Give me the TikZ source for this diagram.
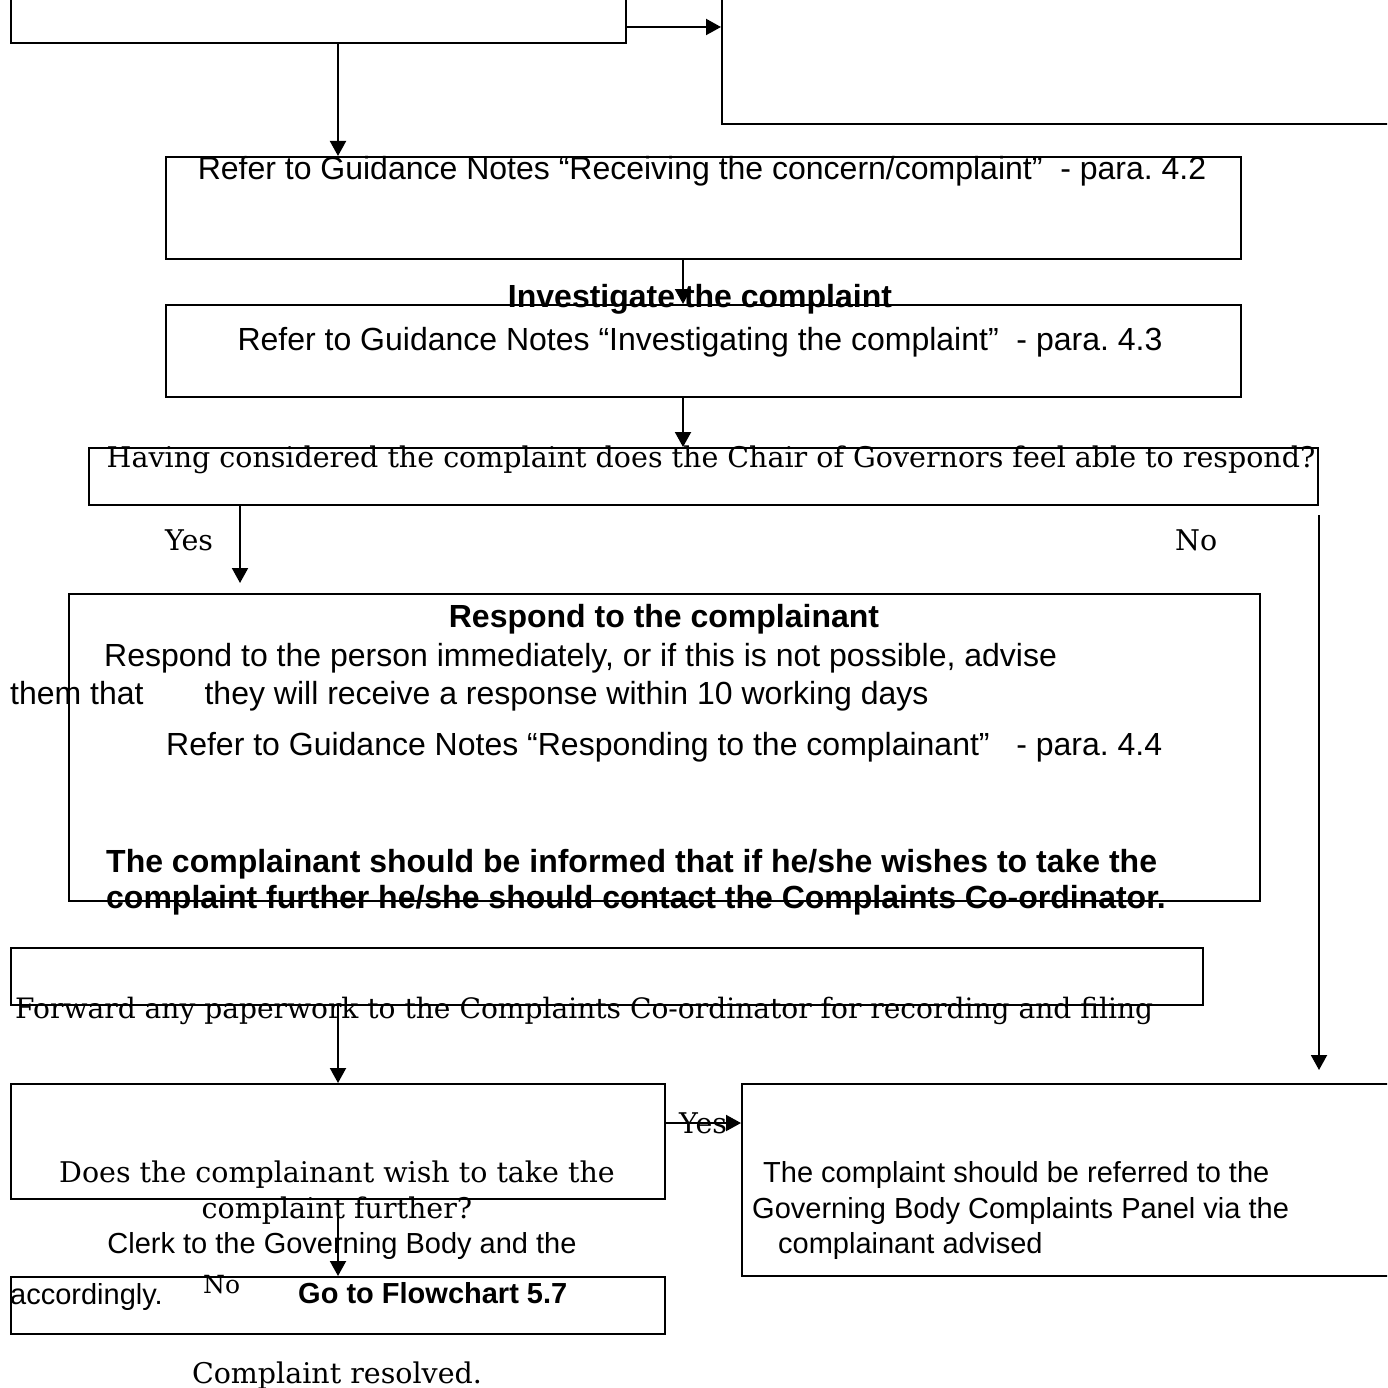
\documentclass[tikz,border=0pt]{standalone}
\usepackage{fontspec}
\usetikzlibrary{arrows.meta}
\newfontfamily\ssf{Liberation Sans}
\newfontfamily\srf{DejaVu Serif}
\frenchspacing
\tikzset{
  box/.style={draw, line width=2pt, inner sep=0pt, anchor=north west},
  arr/.style={line width=2pt, -{Triangle[length=15pt,width=16pt]}},
  stxt/.style={inner sep=0pt, font={\ssf\fontsize{32pt}{38pt}\selectfont}},
  sbold/.style={inner sep=0pt, font={\ssf\bfseries\fontsize{32pt}{38pt}\selectfont}},
  stxts/.style={inner sep=0pt, font={\ssf\fontsize{29pt}{35pt}\selectfont}},
  sbolds/.style={inner sep=0pt, font={\ssf\bfseries\fontsize{29pt}{35pt}\selectfont}},
  rtxt/.style={inner sep=0pt, font={\srf\fontsize{28.5pt}{34pt}\selectfont}},
  rtxtg/.style={inner sep=0pt, font={\srf\fontsize{28.1pt}{34pt}\selectfont}},
  rtxts/.style={inner sep=0pt, font={\srf\fontsize{25pt}{30pt}\selectfont}},
}
\begin{document}
\begin{tikzpicture}[x=1pt,y=-1pt]
\useasboundingbox (0,0) rectangle (1387,1388);
\clip (0,0) rectangle (1387,1388);
\fill[white] (0,0) rectangle (1387,1388);
% boxes
\node[box, minimum width=615pt, minimum height=70pt] (A) at (10,-28) {};
\node[box, minimum width=700pt, minimum height=151pt] (B) at (721,-28) {};
\node[box, minimum width=1075pt, minimum height=102pt] (C) at (165,156) {};
\node[box, minimum width=1075pt, minimum height=92pt] (D) at (165,304) {};
\node[box, minimum width=1229pt, minimum height=57pt] (E) at (88,447) {};
\node[box, minimum width=1191pt, minimum height=307pt] (F) at (68,593) {};
\node[box, minimum width=1192pt, minimum height=57pt] (G) at (10,947) {};
\node[box, minimum width=654pt, minimum height=115pt] (H) at (10,1083) {};
\node[box, minimum width=680pt, minimum height=192pt] (I) at (741,1083) {};
\node[box, minimum width=654pt, minimum height=57pt] (J) at (10,1276) {};
% helper coordinates
\coordinate (xa) at (338,0);
\coordinate (xb) at (683,0);
\coordinate (xc) at (240,0);
\coordinate (ya) at (0,27);
\coordinate (yb) at (0,1123);
% connectors
\draw[arr] (A.east |- ya) -- (B.west |- ya);
\draw[arr] (A.south -| xa) -- (C.north -| xa);
\draw[arr] (C.south -| xb) -- (D.north -| xb);
\draw[arr] (D.south -| xb) -- (E.north -| xb);
\draw[arr, shorten >=10pt] (E.south -| xc) -- (F.north -| xc);
\draw[arr, shorten <=9pt, shorten >=13pt] (E.south east) -- (I.north -| E.east);
\draw[arr] (G.south -| xa) -- (H.north -| xa);
\draw[arr] (H.east |- yb) -- (I.west |- yb);
\draw[arr] (H.south -| xa) -- (J.north -| xa);
% texts
\node[stxt, anchor=base] (tC) at (702,180) {Refer to Guidance Notes “Receiving the concern/complaint”\ \ - para. 4.2};
\node[sbold, anchor=base] (tInv) at (700,307) {Investigate the complaint};
\node[stxt, anchor=base] (tD) at (700,350) {Refer to Guidance Notes “Investigating the complaint”\ \ - para. 4.3};
\node[rtxt, anchor=base] (tE) at (711,467) {Having considered the complaint does the Chair of Governors feel able to respond?};
\node[rtxt, anchor=base west] (yes1) at (165,550) {Yes};
\node[rtxt, anchor=base west] (no1) at (1175,550) {No};
\node[sbold, anchor=base] (tF1) at (664,627) {Respond to the complainant};
\node[stxt, anchor=base west] (tF2) at (104,666) {Respond to the person immediately, or if this is not possible, advise};
\node[stxt, anchor=base west] (tF3) at (10,704) {them that\hspace{61pt}they will receive a response within 10 working days};
\node[stxt, anchor=base west] (tF4) at (166,755) {Refer to Guidance Notes “Responding to the complainant”\ \ \ - para. 4.4};
\node[sbold, anchor=base west] (tF5) at (106,872) {The complainant should be informed that if he/she wishes to take the};
\node[sbold, anchor=base west] (tF6) at (106,908) {complaint further he/she should contact the Complaints Co-ordinator.};
\node[rtxtg, anchor=base west] (tG) at (15,1018) {Forward any paperwork to the Complaints Co-ordinator for recording and filing};
\node[rtxt, anchor=base] (tH1) at (337,1182) {Does the complainant wish to take the};
\node[rtxt, anchor=base] (tH2) at (337,1218) {complaint further?};
\node[rtxt, anchor=base west] (yes2) at (679,1133) {Yes};
\node[stxts, anchor=base west] (tI1) at (763,1182) {The complaint should be referred to the};
\node[stxts, anchor=base west] (tI2) at (752,1218) {Governing Body Complaints Panel via the};
\node[stxts, anchor=base west] (tI3) at (778,1253) {complainant advised};
\node[stxts, anchor=base] (tClerk) at (342,1253) {Clerk to the Governing Body and the};
\node[stxts, anchor=base west] (tAcc) at (10,1304) {accordingly.};
\node[rtxts, anchor=base west] (no2) at (203,1293) {No};
\node[sbolds, anchor=base west] (tGo) at (298,1303) {Go to Flowchart 5.7};
\node[rtxt, anchor=base] (tRes) at (337,1383) {Complaint resolved.};
\end{tikzpicture}
\end{document}
